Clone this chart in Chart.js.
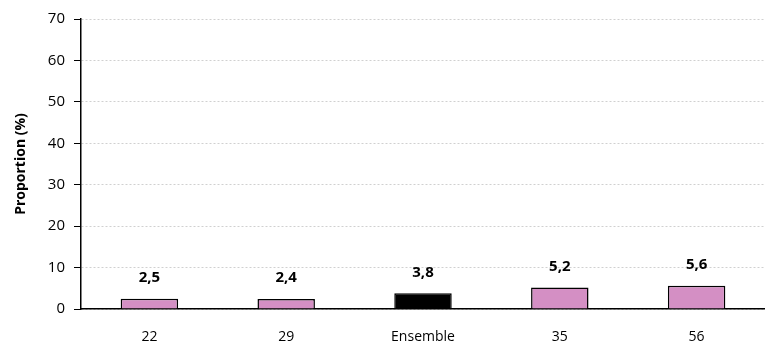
<!DOCTYPE html>
<html>
<head>
<meta charset="utf-8">
<script src="https://cdn.jsdelivr.net/npm/chart.js@4.4.0/dist/chart.umd.min.js"></script>
<style>
  html, body { margin: 0; padding: 0; background: #fff; }
  #wrap { width: 765px; height: 349px; }
</style>
</head>
<body>
<div id="wrap"><canvas id="chart"></canvas></div>
<script>
// données
const categories = ["22", "29", "Ensemble", "35", "56"];
const values = [2.5, 2.4, 3.8, 5.2, 5.6];
const yTicks = [0, 10, 20, 30, 40, 50, 60, 70];

const pink = "#D48FC4";
const barColors = categories.map(c => c === "Ensemble" ? "#000000" : pink);
const font = "'Open Sans', sans-serif";

// étiquettes de valeurs au-dessus des barres
const valueLabels = {
  id: "valueLabels",
  afterDatasetsDraw(chart) {
    const ctx = chart.ctx;
    const meta = chart.getDatasetMeta(0);
    ctx.save();
    ctx.font = "bold 15px " + font;
    ctx.fillStyle = "#000";
    ctx.textAlign = "center";
    ctx.textBaseline = "middle";
    meta.data.forEach((bar, i) => {
      ctx.fillText(values[i].toFixed(1).replace(".", ","), bar.x, bar.y - 21);
    });
    ctx.restore();
  }
};

new Chart(document.getElementById("chart").getContext("2d"), {
  type: "bar",
  data: {
    labels: categories,
    datasets: [{
      data: values,
      backgroundColor: barColors,
      borderColor: "#000",
      borderWidth: 1.5,
      barPercentage: 0.42,
      categoryPercentage: 1
    }]
  },
  options: {
    responsive: true,
    maintainAspectRatio: false,
    animation: false,
    layout: { padding: { top: 19, right: 0, left: 13, bottom: 0 } },
    plugins: {
      legend: { display: false },
      tooltip: { enabled: false }
    },
    scales: {
      x: {
        afterFit(axis) { axis.height = 40; },
        grid: { display: false, drawTicks: false },
        border: { color: "#000", width: 1.5 },
        ticks: { color: "#000", font: { family: font, size: 14 }, padding: 20 }
      },
      y: {
        min: 0,
        max: 70,
        afterBuildTicks(axis) { axis.ticks = yTicks.map(v => ({ value: v })); },
        afterFit(axis) { axis.width = 68; },
        grid: {
          color: "#d0d0d0",
          lineWidth: 1,
          drawTicks: true,
          tickLength: 7,
          tickColor: "#000"
        },
        border: { color: "#000", width: 1.5, dash: [2, 2] },
        ticks: { color: "#000", font: { family: font, size: 15 }, padding: 9 },
        title: {
          display: true,
          text: "Proportion (%)",
          color: "#000",
          font: { family: font, size: 14, weight: "bold" },
          padding: { top: 0, bottom: 0 }
        }
      }
    }
  },
  plugins: [valueLabels]
});
</script>
</body>
</html>
